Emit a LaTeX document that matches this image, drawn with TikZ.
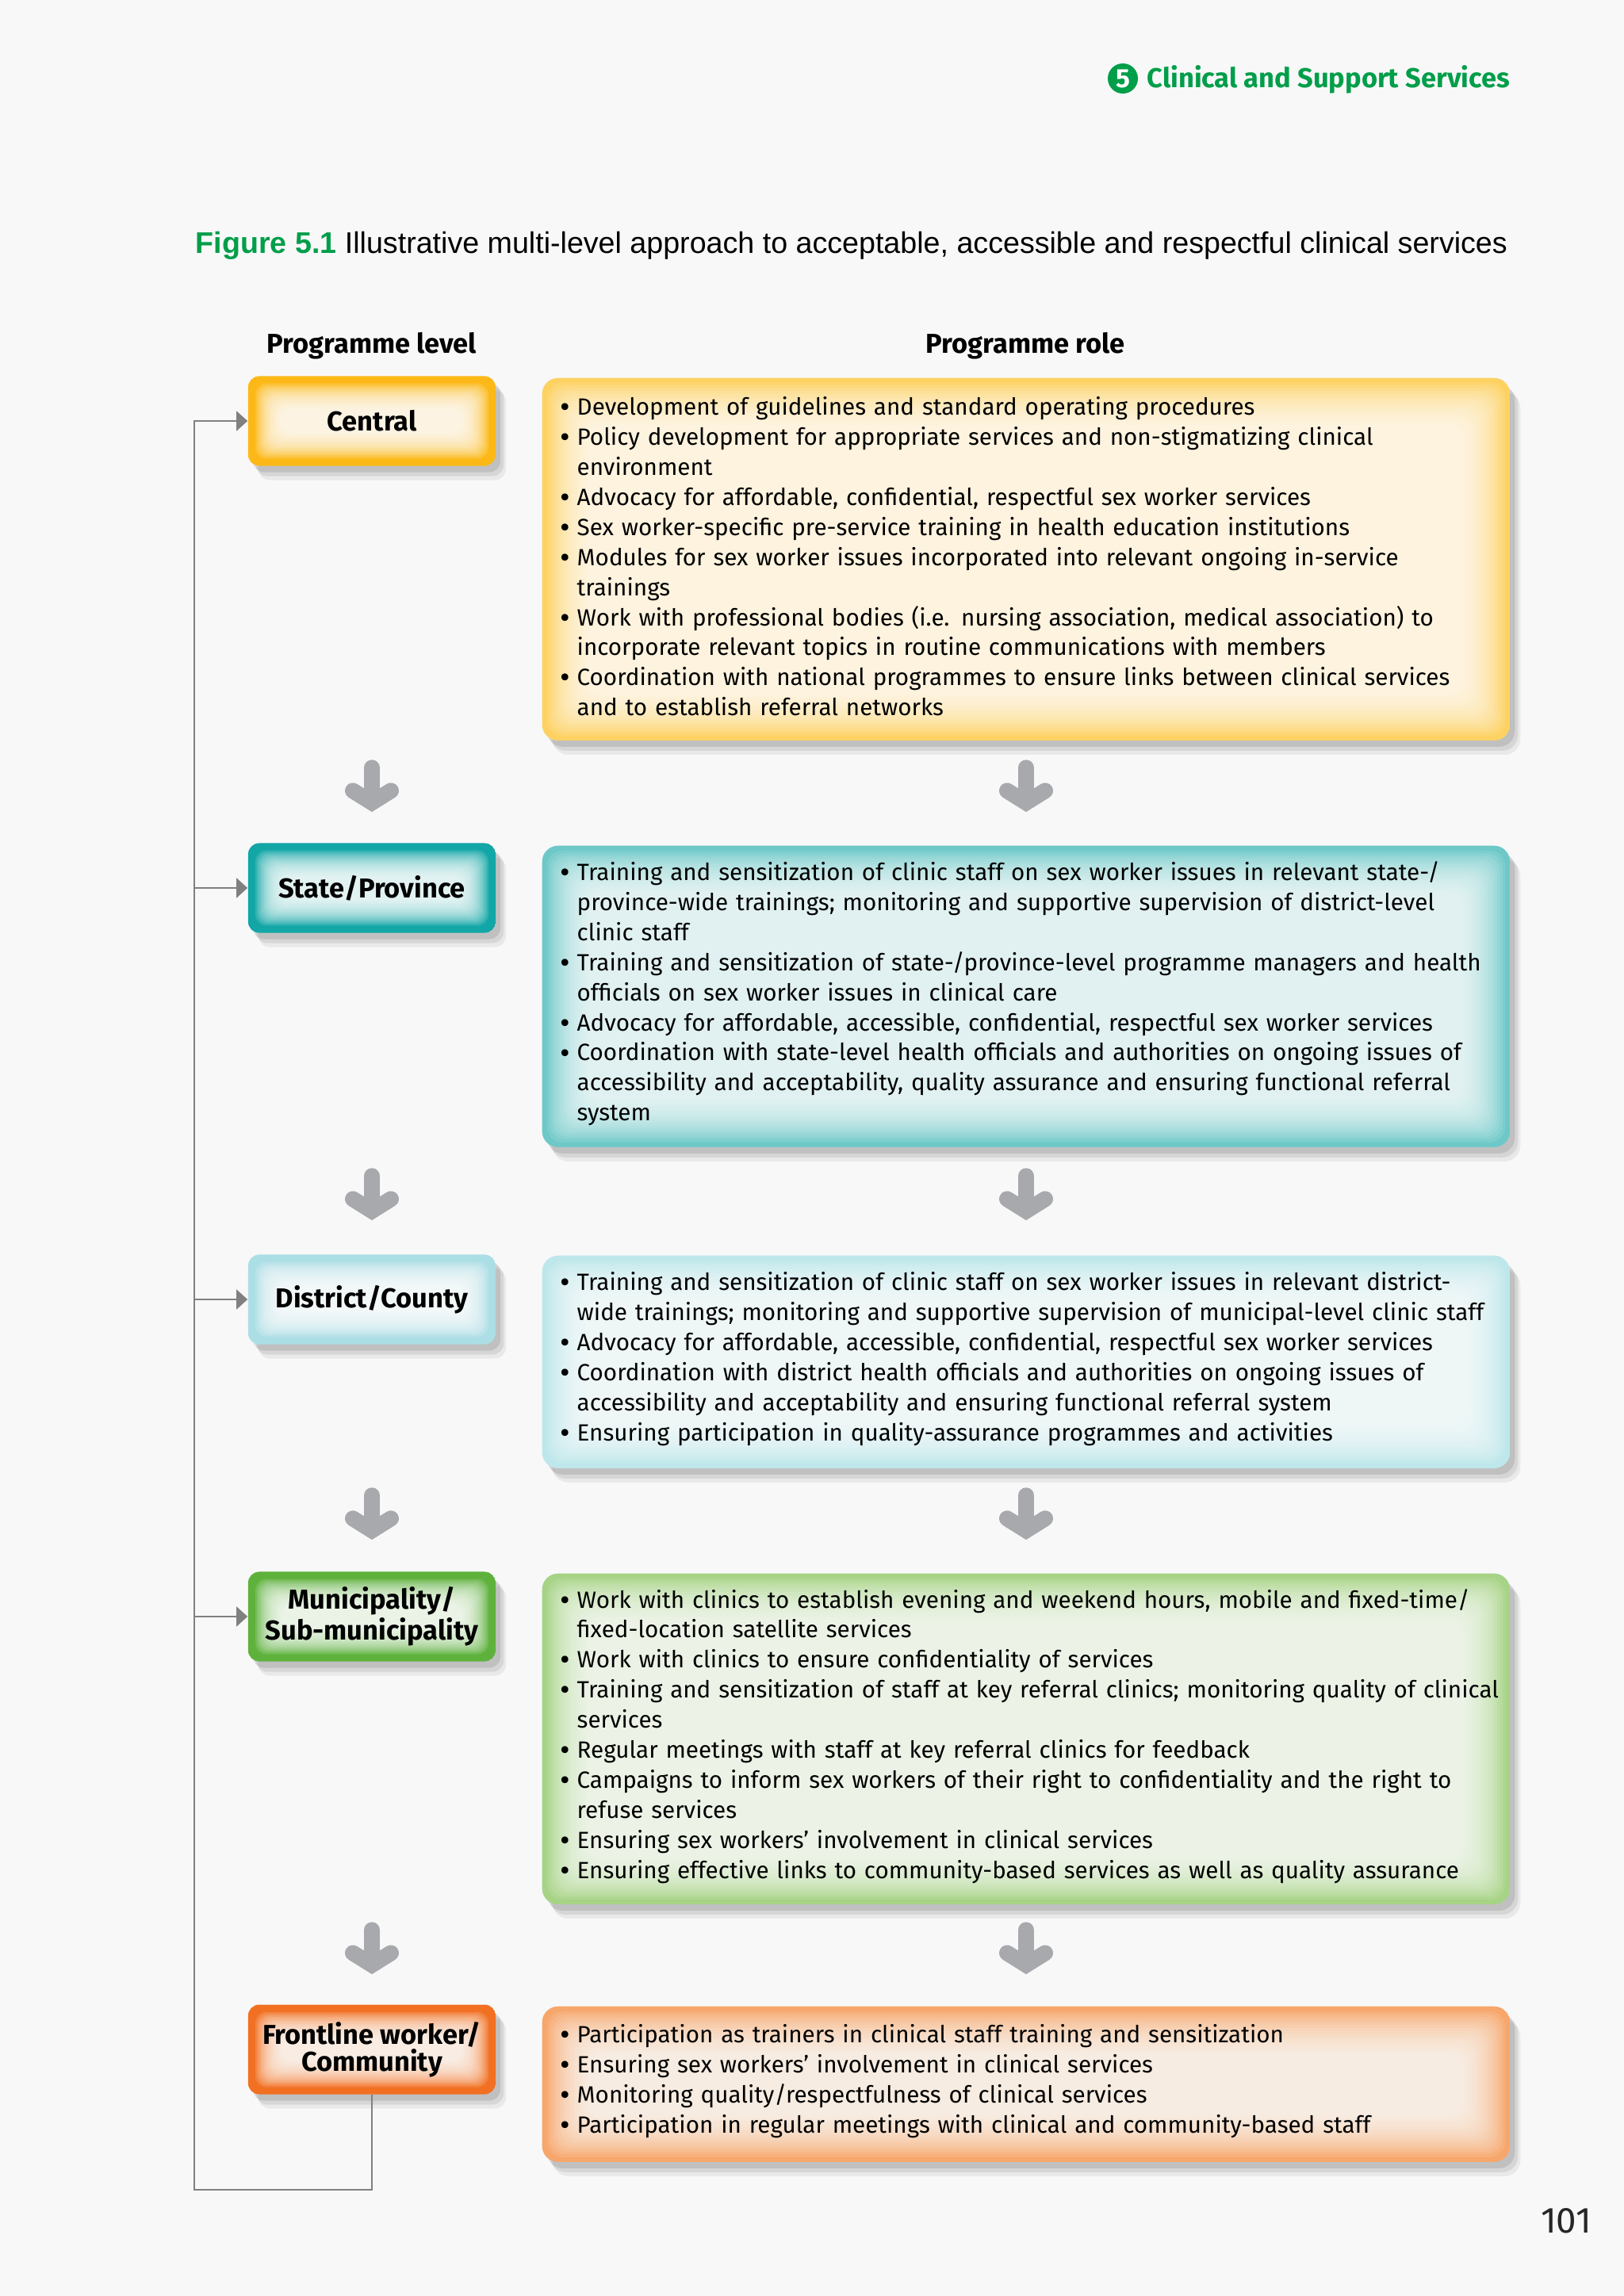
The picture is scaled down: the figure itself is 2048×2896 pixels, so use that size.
\documentclass[tikz,border=0pt]{standalone}
\usepackage{fontspec}
\setmainfont{Fira Sans}
\newfontfamily\captionfont{Liberation Sans}
\usetikzlibrary{arrows.meta,calc,shadows}
\definecolor{figgreen}{RGB}{0,158,73}
\definecolor{pagebg}{RGB}{248,248,249}
\definecolor{arrowgray}{RGB}{167,169,172}
\definecolor{fbgray}{RGB}{128,128,128}
\definecolor{lvlyellow}{RGB}{252,184,22}
\definecolor{roleyellow}{RGB}{253,210,98}
\definecolor{lvlteal}{RGB}{18,166,166}
\definecolor{roleteal}{RGB}{110,200,200}
\definecolor{lvlcyan}{RGB}{172,222,229}
\definecolor{rolecyan}{RGB}{190,231,235}
\definecolor{lvlgreen}{RGB}{94,178,60}
\definecolor{rolegreen}{RGB}{166,211,134}
\definecolor{lvlorange}{RGB}{242,112,34}
\definecolor{roleorange}{RGB}{247,166,108}
\newcommand\rolept[1]{\noindent\hangindent=.21cm\hangafter=1\rightskip=-4mm plus 1fil\hyphenpenalty=10000\makebox[.21cm][l]{\fontsize{11}{0}\selectfont\raisebox{-.15ex}{\textbullet}}#1\par}
\tikzset{shadowed/.style={drop shadow={shadow xshift=1.3mm,shadow yshift=-1.8mm,opacity=.06,fill=black},drop shadow={shadow xshift=1mm,shadow yshift=-1.3mm,opacity=.08,fill=black},drop shadow={shadow xshift=.6mm,shadow yshift=-.8mm,opacity=.1,fill=black}}}
\tikzset{lvl/.style={rectangle,rounded corners=1.4mm,minimum width=3.12cm,minimum height=1.13cm,inner sep=0pt,align=center,font=\fontsize{9.8}{9.7}\selectfont\bfseries,shadowed,
  path picture={\fill[#1] (path picture bounding box.south west) rectangle (path picture bounding box.north east);
    \foreach \k in {0,...,15}
      \fill[white,opacity=.13,rounded corners=1.4mm] ($(path picture bounding box.south west)+({.9mm+\k*.22mm},{.9mm+\k*.22mm})$) rectangle ($(path picture bounding box.north east)-({.9mm+\k*.22mm},{.9mm+\k*.22mm})$);}},
  role/.style={rectangle,rounded corners=2mm,minimum width=12.2cm,text width=11.74cm,inner xsep=.23cm,inner ysep=0pt,align=left,anchor=north,font=\fontsize{8.42}{10.78}\selectfont,shadowed,
  execute at end node={\vspace{.7mm}},
  path picture={\fill[#1] (path picture bounding box.south west) rectangle (path picture bounding box.north east);
    \foreach \k in {0,...,15}
      \fill[white,opacity=.1,rounded corners=2mm] ($(path picture bounding box.south west)+({.6mm+\k*.35mm},{.6mm+\k*.35mm})$) rectangle ($(path picture bounding box.north east)-({.6mm+\k*.35mm},{.6mm+\k*.35mm})$);}},
  colhead/.style={inner sep=0pt,font=\fontsize{9.8}{11}\selectfont\bfseries},
  arrowbody/.style={draw=arrowgray,line width=2mm,line cap=round},
  fb/.style={draw=fbgray,line width=.5pt},
  fbarrow/.style={fb,-{Triangle[length=1.4mm,width=2.5mm]}}}
\tikzset{downarrow/.pic={
  \draw[arrowbody] (0,-23) -- (0,16);
  \draw[arrowbody,line join=miter] (-24,6) -- (0,21) -- (24,6);}}
\begin{document}
\begin{tikzpicture}[x=.01cm,y=-.01cm]
\useasboundingbox (0,0) rectangle (2048,2896);
\fill[pagebg] (0,0) rectangle (2048,2896);
\node[circle,fill=figgreen,text=white,inner sep=0pt,minimum size=3.8mm,font=\fontsize{9.5}{9.5}\selectfont\bfseries] (chapnum) at (1416,99) {5};
\node[anchor=west,inner sep=0pt,text=figgreen,font=\fontsize{9.8}{11}\selectfont\bfseries] (chaptitle) at (1446,100) {Clinical and Support Services};
\node[anchor=west,inner sep=0pt,font=\captionfont\fontsize{10.7}{12}\selectfont] (figtitle) at (246,310) {\textcolor{figgreen}{\bfseries Figure 5.1} Illustrative multi-level approach to acceptable, accessible and respectful clinical services};
\node[colhead] (levelhead) at (469,436) {Programme level};
\node[colhead] (rolehead) at (1293,436) {Programme role};

\node[lvl=lvlyellow] (central) at (469,531) {Central};
\node[lvl=lvlteal] (state) at (469,1120) {State/Province};
\node[lvl=lvlcyan] (district) at (469,1639) {District/County};
\node[lvl=lvlgreen] (municipal) at (469,2039) {Municipality/\\Sub-municipality};
\node[lvl=lvlorange] (frontline) at (469,2585) {Frontline worker/\\Community};

\node[role=roleyellow,minimum height=4.57cm] (centralrole) at (1294,476) {%
\rolept{Development of guidelines and standard operating procedures}
\rolept{Policy development for appropriate services and non-stigmatizing clinical\newline environment}
\rolept{Advocacy for affordable, confidential, respectful sex worker services}
\rolept{Sex worker-specific pre-service training in health education institutions}
\rolept{Modules for sex worker issues incorporated into relevant ongoing in-service\newline trainings}
\rolept{Work with professional bodies (i.e. nursing association, medical association) to\newline incorporate relevant topics in routine communications with members}
\rolept{Coordination with national programmes to ensure links between clinical services\newline and to establish referral networks}};
\node[role=roleteal,minimum height=3.8cm] (staterole) at (1294,1066) {%
\rolept{Training and sensitization of clinic staff on sex worker issues in relevant state-/\newline province-wide trainings; monitoring and supportive supervision of district-level\newline clinic staff}
\rolept{Training and sensitization of state-/province-level programme managers and health\newline officials on sex worker issues in clinical care}
\rolept{Advocacy for affordable, accessible, confidential, respectful sex worker services}
\rolept{Coordination with state-level health officials and authorities on ongoing issues of\newline accessibility and acceptability, quality assurance and ensuring functional referral\newline system}};
\node[role=rolecyan,minimum height=2.68cm] (districtrole) at (1294,1583) {%
\rolept{Training and sensitization of clinic staff on sex worker issues in relevant district-\newline wide trainings; monitoring and supportive supervision of municipal-level clinic staff}
\rolept{Advocacy for affordable, accessible, confidential, respectful sex worker services}
\rolept{Coordination with district health officials and authorities on ongoing issues of\newline accessibility and acceptability and ensuring functional referral system}
\rolept{Ensuring participation in quality-assurance programmes and activities}};
\node[role=rolegreen,minimum height=4.17cm] (municipalrole) at (1294,1984) {%
\rolept{Work with clinics to establish evening and weekend hours, mobile and fixed-time/\newline fixed-location satellite services}
\rolept{Work with clinics to ensure confidentiality of services}
\rolept{Training and sensitization of staff at key referral clinics; monitoring quality of clinical\newline services}
\rolept{Regular meetings with staff at key referral clinics for feedback}
\rolept{Campaigns to inform sex workers of their right to confidentiality and the right to\newline refuse services}
\rolept{Ensuring sex workers’ involvement in clinical services}
\rolept{Ensuring effective links to community-based services as well as quality assurance}};
\node[role=roleorange,minimum height=1.96cm] (frontlinerole) at (1294,2530) {%
\rolept{Participation as trainers in clinical staff training and sensitization}
\rolept{Ensuring sex workers’ involvement in clinical services}
\rolept{Monitoring quality/respectfulness of clinical services}
\rolept{Participation in regular meetings with clinical and community-based staff}};

\coordinate (gap1) at ($(centralrole.south)!.5!(staterole.north)+(0,-9)$);
\coordinate (gap2) at ($(staterole.south)!.5!(districtrole.north)+(0,-9)$);
\coordinate (gap3) at ($(districtrole.south)!.5!(municipalrole.north)+(0,-9)$);
\coordinate (gap4) at ($(municipalrole.south)!.5!(frontlinerole.north)+(0,-9)$);
\foreach \g in {gap1,gap2,gap3,gap4}{
  \pic at (central |- \g) {downarrow};
  \pic at (centralrole |- \g) {downarrow};
}

\coordinate (loopcorner) at (245,2762);
\draw[fbarrow] (frontline.south) |- (loopcorner) |- (central.west);
\foreach \n in {state,district,municipal}
  \draw[fbarrow] (loopcorner |- \n.west) -- (\n.west);

\node[inner sep=0pt,text=black!85,font=\fontsize{13}{15}\selectfont] (pagenum) at (1975,2801) {101};
\end{tikzpicture}
\end{document}
